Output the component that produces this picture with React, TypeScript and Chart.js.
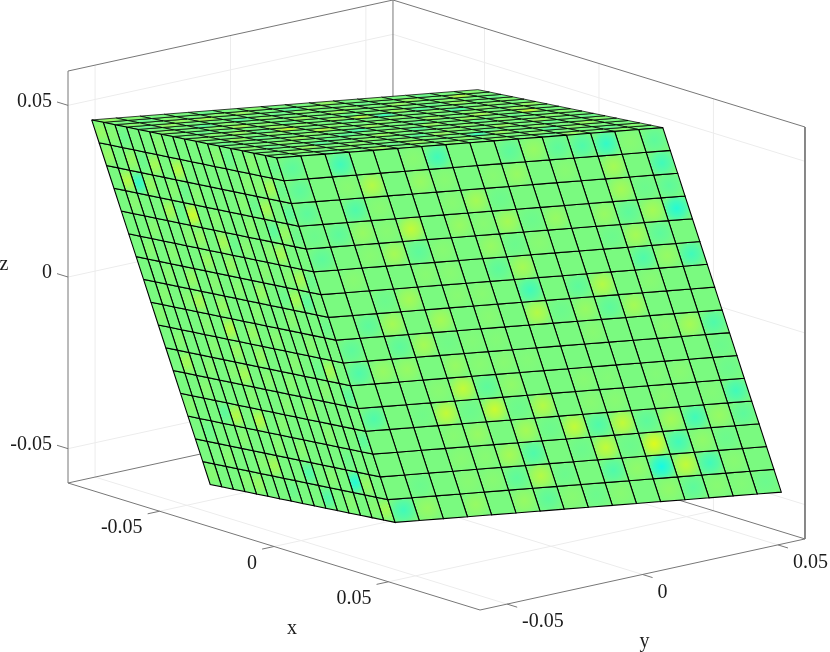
import React, { useEffect, useRef } from "react";
import { Chart, registerables } from "chart.js";

Chart.register(...registerables);

const xLim = [-0.09, 0.09];
const yLim = [-0.06, 0.06];
const zLim = [-0.06, 0.06];
const tickValues = [-0.05, 0, 0.05];
const tickLabels = ["-0.05", "0", "0.05"];
const axisNames = ["x", "y", "z"];

// undeformed mesh nodes of the block
const xNodes = [-0.0404, -0.03535, -0.0303, -0.02525, -0.0202, -0.01515, -0.0101, -0.00505, 0, 0.00505, 0.0101, 0.01515, 0.0202, 0.02525, 0.0303, 0.03535, 0.0404];
const yNodes = [-0.0713, -0.0624, -0.0535, -0.0446, -0.0357, -0.0267, -0.0178, -0.0089, 0, 0.0089, 0.0178, 0.0267, 0.0357, 0.0446, 0.0535, 0.0624, 0.0713];
const zNodes = [-0.05, -0.04375, -0.0375, -0.03125, -0.025, -0.01875, -0.0125, -0.00625, 0, 0.00625, 0.0125, 0.01875, 0.025, 0.03125, 0.0375, 0.04375, 0.05];

// shading of the cells, rows from the top edge down, columns towards +y
const rightValues = [
  [-1, 0, -2, 0, 0, 0.5, -2, 0, 0, -1, 1, -1, -1.5, -2.5, 0.5, -1],
  [-1, 0, 0.5, 2, 0, 1, 0.5, 0, 0.5, 1, 0, 0.5, 0, 1.5, 0, -2],
  [-1, 0, -1.5, 0.5, 0, 0, 0.5, 1.5, -0.5, 0, 0, 0, 0, 1.5, -0.5, -1],
  [-0.5, -1, 1, 0.5, 2.5, 0, 1, 0.5, 1.5, -0.5, 1, 0, 1, -1, 1.5, -3],
  [-1, 0, 0.5, 1.5, -1, 0.5, 0, 1, -0.5, 0.5, 0, 0, -0.5, 1.5, -1, 0],
  [0, 0.5, 0, 0, 0.5, 0.5, 0, -1, 1.5, 0, 0, 0, 0, -1.5, 1, -2],
  [0, 0, -0.5, 1.5, 0, 0.5, 0.5, 0, -2, 0, -1, 2, 0, 0.5, 0, 0],
  [0, -1, 1.5, 0, 1.5, 0, 0.5, 0, 2, -0.5, 1, -1, 1.5, 0, 0, 0],
  [-1, 0, -1, 1.5, -0.3, 0.3, 0.3, 0, 0, 0, 0.5, 0, 0, 0.5, 1.5, -1.5],
  [-1.5, 1, 1, 0, 1, 0.5, 0.5, 0.3, 0, 0, 0, 0, 0, 0, 0, -0.5],
  [0, 0, 0, 0.5, 2.5, -1, 0.8, 0, 0, 0.5, 0.3, 0, 0.3, 0.5, 0, -0.5],
  [-1.5, 0, -0.3, 2.5, -0.5, 2.8, -0.5, 2, 0, 0.5, 0.5, 0, 0.5, 0, 0.3, -2],
  [0, 0, 0, 0.5, 1, 0, 1.5, -0.5, 2.5, -1.5, 2.5, -1, 1.5, -2, 1, -1],
  [0, 0, 0, 0.5, 0.5, 1.5, -1.5, 0, -0.5, 2.5, -0.5, 3.5, -2, 0.8, -0.5, 0],
  [0, -0.5, 0, 0.5, 0.5, -1, 2, -0.5, 0, -1.5, 0.8, -3.5, 2.5, -2, 0.5, 0],
  [-2, 1, 0, 1, 0, 1, -1, 0.5, -0.5, 0.5, 0, 0.8, -1, 0.5, 0.3, -0.5],
];

const leftValues = [
  [1, 0.5, -0.5, 0, 0, 0.5, 0, 0, 0, 0, 0.5, -0.5, 0, 0.5, 0, -0.5],
  [1, 0, 1, -0.5, 1.5, 0, 2, 0, 0, 0, 0, 0, 0.5, 0.5, 1.5, -0.5],
  [0, 2, -2.5, 1, 0, 0.5, -0.5, 0.5, 0, 0, 0, 0.5, -0.5, 1.5, 0, -1],
  [0, 0.5, 0, 0, 1.5, -0.5, 3, 0, 0.5, 0, 0, 0.5, 0, -1, 1, -0.5],
  [0, 0, 0.5, 0, 0, 0.5, 1, 0, 1.5, -0.5, 0.5, 0, 0.5, 1.5, 0, 0],
  [0, 0.5, 0, 0.5, 0, 0, 1, 0, 1, 0, 0, 0.5, 0, 0.5, 1.5, -0.5],
  [0, 0, 0.5, 0, 1, 0, 0.5, 0, 0.5, 0, 1, 0, -0.5, 1.5, -1, 0],
  [0, 0.5, 0, 0.5, 1.5, 0, 1, 0, 0, 0.5, 0, 0, 0.5, 0, 0, -0.5],
  [0.5, 0, 0, 0, 0.5, 0, 2, 0, 1, 0, 0.5, 0, 0, 0.5, 0, 0],
  [0, 0.5, 0, 0, 0.5, 0, 1, 0, 1, 0, 0, 0.5, 0, -0.5, 1.5, 0],
  [0, 1.5, 0, 0.5, 0, 0.5, 1.5, 0, 0.5, 0, 0.5, 0, 0, 0.5, 0, -1],
  [0, 0, 0.5, 0, 0, 0, 0.5, 0, 0, 0.5, 0, 0.5, 0, 0, 0, 0],
  [0.5, 0, 0, -1, 2, 0, 2, 0, 0.5, 0, 0, 0, 0.5, 0, 0, -1],
  [0, -0.5, 0, 0, 0.5, 0, 0, 0.5, 0, 0.5, 0, 0, 0, -0.5, 0, 0],
  [0, 0, 0.5, 0, 0, 0.5, 1.5, 0, 0, -1.5, 0, 0.5, 0, -3, 1, 0],
  [0.5, 0, 0, 0.5, 1, 0, 0, -0.5, 0, 0, -1.5, 0, 0.5, 0, 0.5, 1.5],
];

// top face: rows towards +y, columns towards +x
const topValues = [
  [1, 0, 0.5, -0.5, 0, 0.5, 0, 0, 0.5, 0, -0.5, 0, 0.5, 0, 0, 0],
  [0.5, -0.5, 0, 1, 0, 0, -0.5, 0.5, 0, 1, 0, 0, -0.5, 0, 0.5, 0],
  [0, 0.5, 1, 0, -1, 0.5, 0, 1, 0, -0.5, 0, 0.5, 0, 1, 0, -0.5],
  [0, 0, 1.5, 0, 0.5, 1.5, 0, -0.5, 0.5, 0, 1, 0, -1, 0, 0.5, 0],
  [-0.5, 0.5, 0, -1, 0, 0.5, 1, 2.5, 0, 0.5, 0, -0.5, 0, 0.5, 0, 1],
  [0, 1, 0, 0.5, 0, -0.5, 0.5, 0, 2, 0, -1, 0, 0.5, 0, -0.5, 0],
  [0.5, 0, -0.5, 0, 1, 0, 0, 0.5, 0, -1.5, 0, 1, 0, 0.5, 1, 0],
  [0, -1, 0.5, 0, 0, 1, -0.5, 0, 1, 0, 0.5, 0, -1, 0, 0, 0.5],
  [0, 0.5, 0, 1, -0.5, 2, 0, 0.5, 0, 0, -1, 0, 1, 0, 0.5, 0],
  [1, 0, 0.5, 0, 0, -2, 0.5, 0, -0.5, 1, 0, 0.5, 0, -2, 0, 0.5],
  [0, -0.5, 0, 0.5, 1, 0, 0, 1, 0, 0, 0.5, 0, -0.5, 1, 0, 0],
  [0.5, 0, 1, 0, -1, 0.5, 0, 0, 1, -0.5, 0, 1, 0, 0, 0.5, -0.5],
  [0, 1, 0, -0.5, 0, -1.5, 0.5, 1.5, 0, 0.5, 0, 0, 0.5, -1, 0, 1],
  [-0.5, 0, 0.5, 1, 0, 0.5, 0, 0, -0.5, 0, 1, -0.5, 0, 0.5, 0, 0],
  [0, 2, 0, 0, 0.5, 0, 1, 2.5, 0, 0.5, 0, 0, 1, 0, -0.5, 0.5],
  [0.5, 0, -0.5, 0.5, 0, 1, 0, 0, 0.5, 0, -0.5, 0.5, 0, 0, 0.5, 0],
];

type P3 = [number, number, number];

const project = (x: number, y: number, z: number) => ({
  x: 436.5 + 2289 * x + 2708 * y,
  y: 305 + 705.6 * x - 592 * y - 3433 * z,
});

// block deformation: undeformed node to deformed position
const deform = (X: number, Y: number, Z: number): P3 => [
  X - 0.3906 * Z,
  Y - 0.1074 * Z,
  Z + 0.0686 * X - 0.1106 * Y - 0.0003,
];

const shade = (v: number) =>
  `rgb(${Math.round(122 + 24 * v)},250,${Math.round(128 - 24 * v)})`;

const lineSet = (pts: P3[], color: string, order: number) => ({
  data: pts.map((p) => project(p[0], p[1], p[2])),
  showLine: true,
  fill: false,
  borderColor: color,
  borderWidth: 1,
  pointRadius: 0,
  order,
});

const cellSet = (corners: P3[], v: number, width: number) => {
  const pts = corners.map((p) => project(p[0], p[1], p[2]));
  const closed = [...pts, pts[0]];
  const cx = (pts[0].x + pts[1].x + pts[2].x + pts[3].x) / 4;
  const cy = (pts[0].y + pts[1].y + pts[2].y + pts[3].y) / 4;
  const rad = Math.max(...pts.map((p) => Math.hypot(p.x - cx, p.y - cy))) * 0.8;
  return {
    data: closed,
    showLine: true,
    fill: "shape",
    borderColor: "#000000",
    borderWidth: width,
    pointRadius: 0,
    order: 1,
    backgroundColor: (c: any) => {
      const { x, y } = c.chart.scales;
      const px = x ? x.getPixelForValue(cx) : NaN;
      const py = y ? y.getPixelForValue(cy) : NaN;
      if (!Number.isFinite(px) || !Number.isFinite(py)) return shade(v);
      const g = c.chart.ctx.createRadialGradient(px, py, 0, px, py, rad);
      g.addColorStop(0, shade(v * 1.2));
      g.addColorStop(0.5, shade(v * 0.75));
      g.addColorStop(1, shade(v * 0.08));
      return g;
    },
  };
};

const buildDatasets = () => {
  const sets: any[] = [];
  const [x0, x1] = xLim;
  const [y0, y1] = yLim;
  const [z0, z1] = zLim;
  const grid = "#ececec";
  const box = "#777777";

  tickValues.forEach((t) => {
    sets.push(lineSet([[x0, y0, t], [x0, y1, t], [x1, y1, t]], grid, 5));
    sets.push(lineSet([[t, y0, z0], [t, y1, z0], [t, y1, z1]], grid, 5));
    sets.push(lineSet([[x1, t, z0], [x0, t, z0], [x0, t, z1]], grid, 5));
    sets.push(lineSet([[x0, y0, t], [x0 - 0.0048, y0, t]], box, 4));
    sets.push(lineSet([[t, y0, z0], [t, y0 - 0.0044, z0]], box, 4));
    sets.push(lineSet([[x1, t, z0], [x1 + 0.0044, t, z0]], box, 4));
  });
  sets.push(lineSet([[x0, y0, z0], [x0, y0, z1], [x0, y1, z1], [x1, y1, z1], [x1, y1, z0]], box, 4));
  sets.push(lineSet([[x0, y1, z0], [x0, y1, z1]], box, 4));
  sets.push(lineSet([[x0, y0, z0], [x1, y0, z0], [x1, y1, z0], [x0, y1, z0], [x0, y0, z0]], box, 4));

  const top = zNodes.length - 1;
  for (let r = 0; r < 16; r++) {
    for (let c = 0; c < 16; c++) {
      // left face, y at its low end, columns towards +x
      sets.push(cellSet([
        deform(xNodes[c], yNodes[0], zNodes[top - r]),
        deform(xNodes[c + 1], yNodes[0], zNodes[top - r]),
        deform(xNodes[c + 1], yNodes[0], zNodes[top - r - 1]),
        deform(xNodes[c], yNodes[0], zNodes[top - r - 1]),
      ], leftValues[r][c], 1.1));
      // right face, x at its high end, columns towards +y
      sets.push(cellSet([
        deform(xNodes[16], yNodes[c], zNodes[top - r]),
        deform(xNodes[16], yNodes[c + 1], zNodes[top - r]),
        deform(xNodes[16], yNodes[c + 1], zNodes[top - r - 1]),
        deform(xNodes[16], yNodes[c], zNodes[top - r - 1]),
      ], rightValues[r][c], 1.1));
      // top face
      sets.push(cellSet([
        deform(xNodes[c], yNodes[r], zNodes[top]),
        deform(xNodes[c + 1], yNodes[r], zNodes[top]),
        deform(xNodes[c + 1], yNodes[r + 1], zNodes[top]),
        deform(xNodes[c], yNodes[r + 1], zNodes[top]),
      ], topValues[r][c], 0.75));
    }
  }
  return sets;
};

const axisText = {
  id: "axisText",
  afterDraw(chart: any) {
    const { ctx, scales } = chart;
    const put = (text: string, p: { x: number; y: number }, dx: number, dy: number, align: CanvasTextAlign) => {
      ctx.textAlign = align;
      ctx.fillText(text, scales.x.getPixelForValue(p.x) + dx, scales.y.getPixelForValue(p.y) + dy);
    };
    ctx.save();
    ctx.fillStyle = "#1c1c1c";
    ctx.textBaseline = "middle";
    ctx.font = '20px "Liberation Serif"';
    tickValues.forEach((t, i) => {
      put(tickLabels[i], project(xLim[0], yLim[0], t), -16, -4, "right");
      put(tickLabels[i], project(t, yLim[0], zLim[0]), -17, 17, "right");
      put(tickLabels[i], project(xLim[1], t, zLim[0]), 15, 18, "left");
    });
    put(axisNames[0], project(0.0, yLim[0], zLim[0]), 18, 82, "center");
    put(axisNames[1], project(xLim[1], 0, zLim[0]), 2, 67, "center");
    put(axisNames[2], project(xLim[0], yLim[0], 0), -64, -12, "center");
    ctx.restore();
  },
};

export default function App() {
  const ref = useRef<HTMLCanvasElement | null>(null);
  useEffect(() => {
    document.body.style.margin = "0";
    const chart = new Chart(ref.current as HTMLCanvasElement, {
      type: "scatter",
      data: { datasets: buildDatasets() },
      options: {
        animation: false,
        responsive: false,
        layout: { padding: 0 },
        plugins: { legend: { display: false }, tooltip: { enabled: false } },
        scales: {
          x: { type: "linear", min: 0, max: 830, display: false },
          y: { type: "linear", min: 0, max: 652, reverse: true, display: false },
        },
      },
      plugins: [axisText],
    } as any);
    return () => chart.destroy();
  }, []);
  return <canvas ref={ref} width={830} height={652} style={{ display: "block" }} />;
}
